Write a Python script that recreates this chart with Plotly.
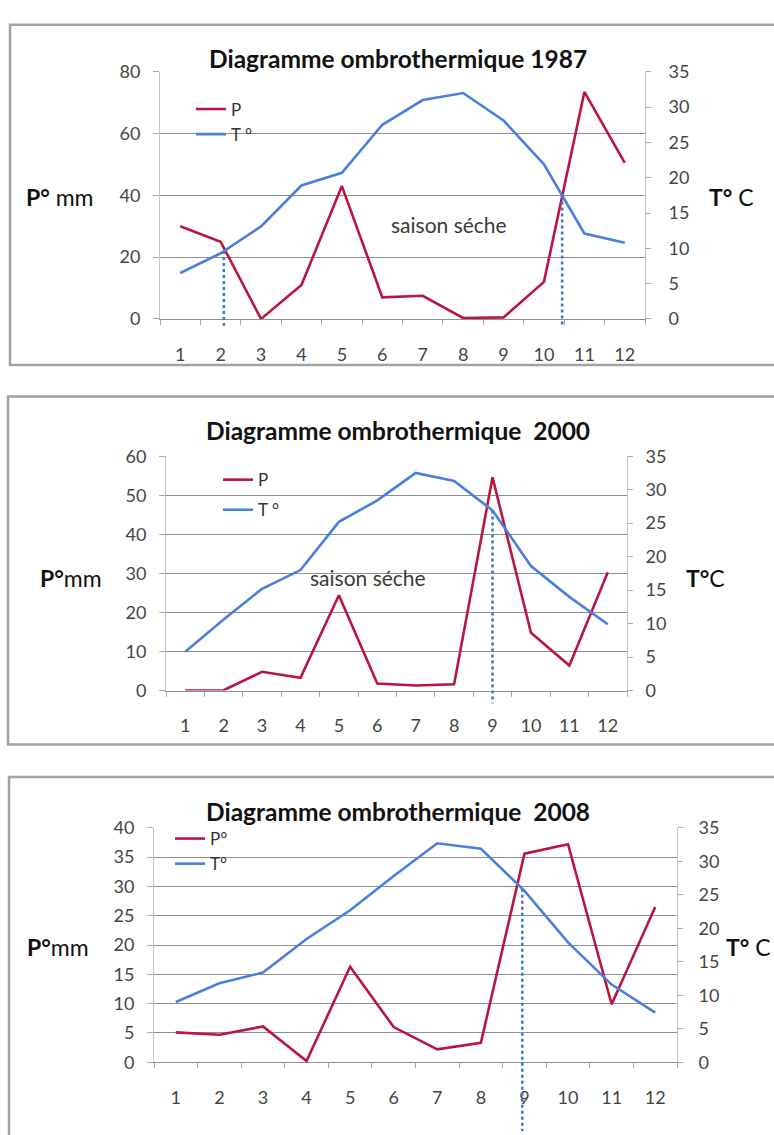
import plotly.graph_objects as go

# ---- data -----------------------------------------------------------------
MONTHS = ["1", "2", "3", "4", "5", "6", "7", "8", "9", "10", "11", "12"]

P_1987 = [30, 25, 0, 11, 43, 7, 7.5, 0.3, 0.5, 12, 73.5, 50.5]
T_1987 = [6.5, 9.3, 13.1, 18.9, 20.7, 27.5, 31, 32, 28.1, 21.9, 12.1, 10.8]

P_2000 = [0, 0.1, 4.8, 3.3, 24.4, 1.8, 1.3, 1.6, 54.6, 14.8, 6.4, 30.3]
T_2000 = [5.8, 10.6, 15.2, 18, 25.2, 28.4, 32.5, 31.3, 26.9, 18.6, 14, 9.9]

P_2008 = [5.1, 4.7, 6.1, 0.2, 16.3, 6, 2.2, 3.3, 35.6, 37.2, 9.9, 26.5]
T_2008 = [9, 11.8, 13.4, 18.4, 22.7, 27.8, 32.7, 31.9, 25.6, 17.9, 11.6, 7.4]

# month positions marking the limits of the dry season
LIMITS_1987 = [2.08, 10.45]
LIMITS_2000 = [9.0]
LIMITS_2008 = [8.95]

# ---- style ----------------------------------------------------------------
W, H = 774, 1135
RED = "#B8163E"
BLUE = "#4A80DC"
GRID = "#8E8E8E"
AXIS = "#C4C4C4"
TICKCOL = "#A8A8A8"
FRAME = "#A2A2A2"
FONT = "Lato"
TICKFONT = dict(family=FONT, size=18, color="#454545")


def fx(px):
    return px / W


def fy(py):
    return 1 - py / H


panels = [
    dict(title="Diagramme ombrothermique 1987", title_y=47, P=P_1987, T=T_1987,
         limits=LIMITS_1987, pmax=80, pdtick=20, box=(160, 645, 61, 313),
         frame=(10, 13, 360), names=("P", "T °"), legend_xy=(191, 81), legend_gap=0,
         ylab="<b>P°</b> mm", ylab_x=60, ylab_anchor="center",
         tlab="<b>T°</b> C", tlab_x=731, tlab_anchor="center", lab_y=189,
         dry=(6.64, 30.5), dot_ext=7, rstand=14),
    dict(title="Diagramme ombrothermique  2000", title_y=427, P=P_2000, T=T_2000,
         limits=LIMITS_2000, pmax=60, pdtick=10, box=(166, 627, 453, 692),
         frame=(8, 392, 747), names=("P", "T °"), legend_xy=(218, 459), legend_gap=5,
         ylab="<b>P°</b>mm", ylab_x=71, ylab_anchor="center",
         tlab="<b>T°</b>C", tlab_x=705, tlab_anchor="center", lab_y=577,
         dry=(4.76, 28.9), dot_ext=13, rstand=9),
    dict(title="Diagramme ombrothermique  2008", title_y=815, P=P_2008, T=T_2008,
         limits=LIMITS_2008, pmax=40, pdtick=5, box=(154, 677, 832, 1071),
         frame=(9, 780, 1200), names=("P°", "T°"), legend_xy=(170, 825), legend_gap=0,
         ylab="<b>P°</b>mm", ylab_x=58, ylab_anchor="center",
         tlab="<b>T°</b> C", tlab_x=773, tlab_anchor="right", lab_y=953,
         dry=None, dot_ext=70, rstand=12),
]

fig = go.Figure()
layout = dict(
    width=W, height=H, margin=dict(l=0, r=0, t=0, b=0),
    paper_bgcolor="white", plot_bgcolor="rgba(0,0,0,0)",
    font=dict(family=FONT, color="#222222"),
    showlegend=True,
)
shapes = []
annotations = []


def interp(series, month):
    i = int(month) - 1
    frac = month - int(month)
    if i >= len(series) - 1:
        return series[-1]
    return series[i] + (series[i + 1] - series[i]) * frac


for k, pan in enumerate(panels):
    n = k + 1
    xname = "x" if n == 1 else f"x{n}"
    yl = "y" if n == 1 else f"y{2 * n - 1}"
    yr = f"y{2 * n}"
    leg = "legend" if n == 1 else f"legend{n}"
    x0, x1, ytop, ybot = pan["box"]
    xdom = [fx(x0), fx(x1)]
    ydom = [fy(ybot), fy(ytop)]

    fig.add_trace(go.Scatter(
        x=MONTHS, y=pan["P"], xaxis=xname, yaxis=yl, mode="lines",
        line=dict(color=RED, width=2.6), name=pan["names"][0],
        legend=leg, legendgroup=f"p{n}", hoverinfo="skip"))
    fig.add_trace(go.Scatter(
        x=MONTHS, y=pan["T"], xaxis=xname, yaxis=yr, mode="lines",
        line=dict(color=BLUE, width=2.6), name=pan["names"][1],
        legend=leg, legendgroup=f"t{n}", hoverinfo="skip"))

    layout["xaxis" if n == 1 else f"xaxis{n}"] = dict(
        domain=xdom, anchor=yl, type="category", range=[-0.5, 11.5],
        showline=True, linecolor=GRID, linewidth=1,
        ticks="outside", tickson="boundaries", ticklen=5, tickcolor=TICKCOL,
        showgrid=False, zeroline=False, tickfont=TICKFONT, ticklabelstandoff=19,
        fixedrange=True)
    layout["yaxis" if n == 1 else f"yaxis{2 * n - 1}"] = dict(
        domain=ydom, anchor=xname, range=[0, pan["pmax"]], dtick=pan["pdtick"],
        showgrid=True, gridcolor=GRID, gridwidth=1, zeroline=False,
        showline=True, linecolor=AXIS, linewidth=1,
        ticks="outside", ticklen=6, tickcolor=TICKCOL,
        tickfont=TICKFONT, ticklabelstandoff=9, fixedrange=True)
    layout[f"yaxis{2 * n}"] = dict(
        domain=ydom, anchor=xname, overlaying=yl, side="right",
        range=[0, 35], dtick=5, showgrid=False, zeroline=False,
        showline=True, linecolor=AXIS, linewidth=1,
        ticks="outside", ticklen=5, tickcolor=TICKCOL,
        tickfont=TICKFONT, ticklabelstandoff=pan["rstand"], fixedrange=True)

    lx, ly = pan["legend_xy"]
    layout[leg] = dict(
        x=fx(lx), y=fy(ly), xanchor="left", yanchor="top",
        bgcolor="rgba(0,0,0,0)", borderwidth=0,
        tracegroupgap=pan["legend_gap"],
        font=dict(family=FONT, size=17, color="#333333"))

    # panel frame
    fl, ft, fb = pan["frame"]
    shapes.append(dict(type="rect", xref="paper", yref="paper",
                       x0=fx(fl), x1=fx(W + 20), y0=fy(fb), y1=fy(ft),
                       line=dict(color=FRAME, width=2.5), layer="below"))

    # dotted markers for the dry-season limits
    ph = ybot - ytop
    for m in pan["limits"]:
        t_at = interp(pan["T"], m)
        shapes.append(dict(type="line", xref=xname, yref=f"{yr} domain",
                           x0=m - 1, x1=m - 1, y0=t_at / 35,
                           y1=-pan["dot_ext"] / ph,
                           line=dict(color="#3F7AD0", width=2.6, dash="dot"),
                           layer="above"))

    annotations.append(dict(text=f"<b>{pan['title']}</b>", xref="paper", yref="paper",
                            x=fx(398), y=fy(pan["title_y"]),
                            xanchor="center", yanchor="middle", showarrow=False,
                            font=dict(family=FONT, size=24.5, color="#111111")))
    annotations.append(dict(text=pan["ylab"], xref="paper", yref="paper",
                            x=fx(pan["ylab_x"]), y=fy(pan["lab_y"]),
                            xanchor=pan["ylab_anchor"], yanchor="middle", showarrow=False,
                            font=dict(family=FONT, size=23, color="#111111")))
    annotations.append(dict(text=pan["tlab"], xref="paper", yref="paper",
                            x=fx(pan["tlab_x"]), y=fy(pan["lab_y"]),
                            xanchor=pan["tlab_anchor"], yanchor="middle", showarrow=False,
                            font=dict(family=FONT, size=23, color="#111111")))
    if pan["dry"] is not None:
        annotations.append(dict(text="saison séche", xref=xname, yref=yl,
                                x=pan["dry"][0], y=pan["dry"][1],
                                xanchor="center", yanchor="middle", showarrow=False,
                                font=dict(family=FONT, size=21, color="#3a3a3a")))

layout["shapes"] = shapes
layout["annotations"] = annotations
fig.update_layout(**layout)
fig.write_html("out.html")
